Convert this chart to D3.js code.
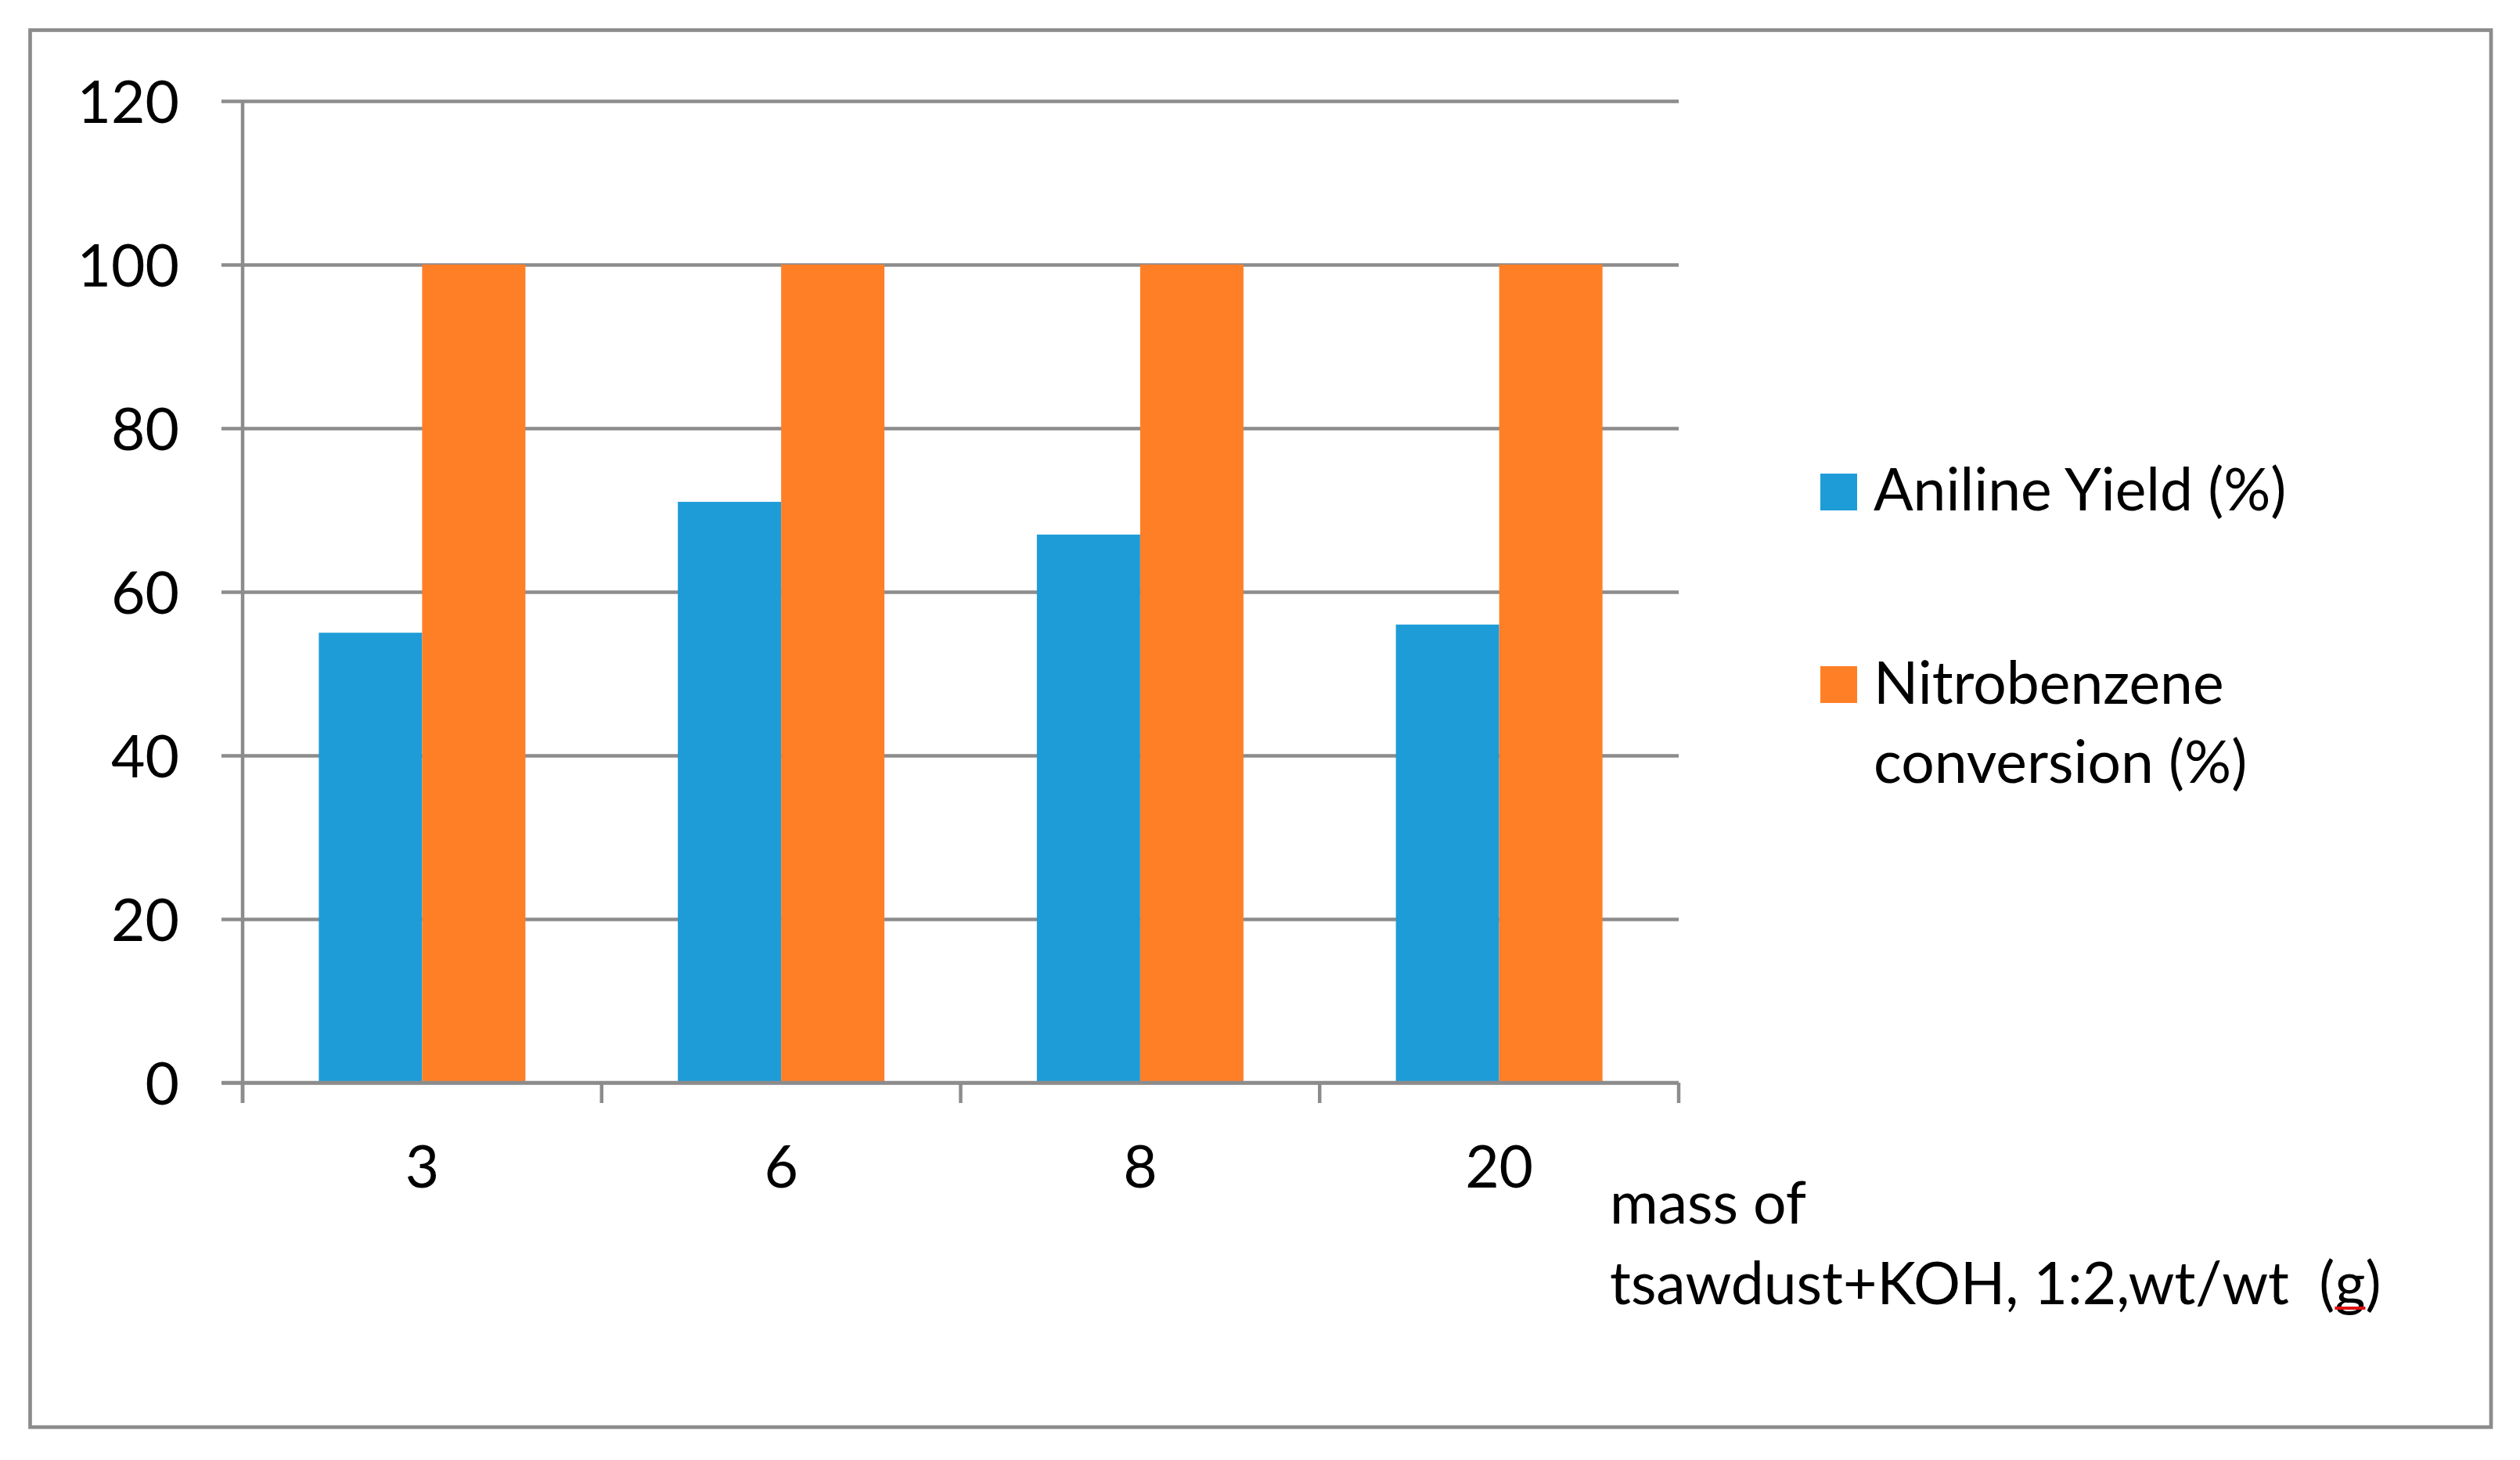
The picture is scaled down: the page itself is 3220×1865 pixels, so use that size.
<!DOCTYPE html>
<html>
<head>
<meta charset="utf-8">
<script src="https://cdn.jsdelivr.net/npm/d3@7"></script>
<title>aniline yield</title>
<style>
body { margin: 0; background: #fff; }
text { font-family: Lato, "Open Sans", sans-serif; fill: #000; }
</style>
</head>
<body>
<script>

// data
var categories = ["3", "6", "8", "20"];
var seriesNames = ["Aniline Yield (%)", "Nitrobenzene conversion (%)"];
var anilineYield = [55, 71, 67, 56];
var nitroConversion = [100, 100, 100, 100];
var yTicks = [0, 20, 40, 60, 80, 100, 120];
var colors = ["#1e9cd8", "#ff7f27"];

var width = 3220,
    height = 1865,
    gray = "#8c8c8c",
    plotLeft = 310, plotRight = 2145, plotTop = 129, plotBottom = 1383;

var svg = d3.select("body").append("svg")
    .attr("width", width)
    .attr("height", height);

// outer frame
svg.append("rect")
    .attr("x", 38.5).attr("y", 38.5)
    .attr("width", 3144.5).attr("height", 1784.5)
    .attr("fill", "white")
    .attr("stroke", gray)
    .attr("stroke-width", 4.7);

var x = d3.scaleBand()
    .domain(categories)
    .range([plotLeft, plotRight])
    .paddingInner(0.4245)
    .paddingOuter(0.21225);

var x1 = d3.scaleBand()
    .domain([0, 1])
    .range([0, x.bandwidth()]);

var y = d3.scaleLinear()
    .domain([0, 120])
    .range([plotBottom, plotTop]);

// gridlines (with the little tick stub on the left)
var grid = svg.append("g")
    .attr("transform", "translate(" + (plotLeft - 27) + ",0)")
    .call(d3.axisRight(y).tickValues(yTicks).tickSize(plotRight - plotLeft + 27).tickFormat(""));
grid.select(".domain").remove();
grid.selectAll("line").attr("stroke", gray).attr("stroke-width", 4.5);

// bars
var rows = categories.map(function(c, i) { return {cat: c, vals: [anilineYield[i], nitroConversion[i]]}; });

svg.append("g").selectAll("g")
    .data(rows)
  .enter().append("g")
    .attr("transform", function(d) { return "translate(" + x(d.cat) + ",0)"; })
  .selectAll("rect")
    .data(function(d) { return d.vals; })
  .enter().append("rect")
    .attr("x", function(d, i) { return x1(i); })
    .attr("width", x1.bandwidth())
    .attr("y", function(d) { return y(d); })
    .attr("height", function(d) { return y(0) - y(d); })
    .attr("fill", function(d, i) { return colors[i]; });

// y axis line
svg.append("line")
    .attr("x1", plotLeft).attr("x2", plotLeft)
    .attr("y1", y(120)).attr("y2", y(0) + 26)
    .attr("stroke", gray).attr("stroke-width", 4.5);

// x axis line + boundary ticks
svg.append("line")
    .attr("x1", plotLeft - 27).attr("x2", plotRight)
    .attr("y1", y(0)).attr("y2", y(0))
    .attr("stroke", gray).attr("stroke-width", 4.5);

svg.append("g").selectAll("line")
    .data(d3.range(categories.length + 1))
  .enter().append("line")
    .attr("x1", function(i) { return plotLeft + i * x.step(); })
    .attr("x2", function(i) { return plotLeft + i * x.step(); })
    .attr("y1", y(0)).attr("y2", y(0) + 26)
    .attr("stroke", gray).attr("stroke-width", 4.5);

// y labels
var yAxis = svg.append("g")
    .attr("transform", "translate(229,0)")
    .call(d3.axisLeft(y).tickValues(yTicks).tickSize(0).tickPadding(0));
yAxis.select(".domain").remove();
yAxis.selectAll("text")
    .attr("font-size", 75)
    .attr("font-family", "Lato")
    .attr("dy", "0.36em")
    .attr("fill", "#000");

// x labels
var xAxis = svg.append("g")
    .attr("transform", "translate(0," + y(0) + ")")
    .call(d3.axisBottom(x).tickSize(0).tickPadding(0));
xAxis.select(".domain").remove();
xAxis.selectAll("text")
    .attr("font-size", 75)
    .attr("font-family", "Lato")
    .attr("dy", null)
    .attr("y", 134)
    .attr("fill", "#000");

// axis title
var titleLine2 = "tsawdust+KOH, 1:2,wt/wt  (g)";
var title = svg.append("text")
    .attr("x", 2057)
    .attr("font-size", 75);
title.append("tspan").attr("x", 2057).attr("y", 1563).text("mass of");
var line2 = title.append("tspan").attr("x", 2057).attr("y", 1666)
    .style("white-space", "pre")
    .text(titleLine2);

// red spell-check squiggle under the "g"
var ext = line2.node().getExtentOfChar(titleLine2.indexOf("g"));
svg.append("line")
    .attr("x1", ext.x).attr("x2", ext.x + ext.width)
    .attr("y1", 1671).attr("y2", 1671)
    .attr("stroke", "#e01010").attr("stroke-width", 4);

// legend
var legendRows = [
  {lines: ["Aniline Yield (%)"], sq: 605, base: 652},
  {lines: ["Nitrobenzene", "conversion (%)"], sq: 851, base: 899}
];

legendRows.forEach(function(r, i) {
  svg.append("rect")
      .attr("x", 2326).attr("y", r.sq)
      .attr("width", 47).attr("height", 47)
      .attr("fill", colors[i]);
  var t = svg.append("text").attr("font-size", 75);
  r.lines.forEach(function(l, j) {
    t.append("tspan").attr("x", 2394).attr("y", r.base + j * 101).text(l);
  });
});

</script>
</body>
</html>
